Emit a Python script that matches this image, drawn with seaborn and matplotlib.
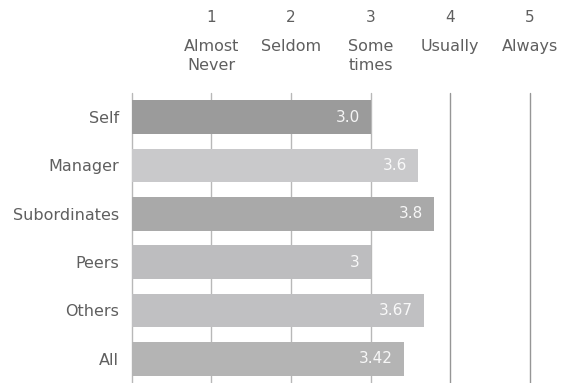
import matplotlib
matplotlib.use("Agg")
import matplotlib.pyplot as plt
import matplotlib.transforms as mtransforms
import seaborn as sns
import pandas as pd

# data
groups = ["Self", "Manager", "Subordinates", "Peers", "Others", "All"]
scores = [3.0, 3.6, 3.8, 3.0, 3.67, 3.42]
score_labels = ["3.0", "3.6", "3.8", "3", "3.67", "3.42"]
bar_colors = ["#9b9b9b", "#c9c9cb", "#a9a9a9", "#bdbdbf", "#c0c0c2", "#b4b4b4"]
scale_ticks = [1, 2, 3, 4, 5]
scale_names = ["Almost\nNever", "Seldom", "Some\ntimes", "Usually", "Always"]

df = pd.DataFrame({"group": groups, "score": scores})

sns.set_theme(style="white")
plt.rcParams["font.family"] = ["DejaVu Sans"]
TXT = "#5f5f5f"

fig = plt.figure(figsize=(5.61, 3.83), dpi=100)
ax = fig.add_axes([131.7 / 561, 0, (530 - 131.7) / 561, 290 / 383])

# scale lines behind the bars
for v in [0] + scale_ticks:
    ax.axvline(v, color="#b8b8b8" if v < 4 else "#969696", lw=1.0, zorder=0, clip_on=False)

sns.barplot(data=df, x="score", y="group", hue="group", palette=bar_colors,
            orient="h", width=0.70, legend=False, saturation=1, linewidth=0,
            ax=ax, zorder=2)

for i, (v, lab) in enumerate(zip(scores, score_labels)):
    ax.annotate(lab, (v, i), xytext=(-8, 0), textcoords="offset points",
                ha="right", va="center", color="white", alpha=0.9, fontsize=11, zorder=3)

ax.set_xlim(0, 5)
ax.set_ylim(5.5, -0.5)
ax.set_xlabel("")
ax.set_ylabel("")
ax.set_xticks([])
ax.tick_params(axis="y", length=0, pad=9, labelsize=11.5, labelcolor=TXT)
for s in ax.spines.values():
    s.set_visible(False)

# header scale
trans = mtransforms.blended_transform_factory(ax.transData, fig.transFigure)
for t, name in zip(scale_ticks, scale_names):
    ax.text(t, 1 - 18 / 383, str(t), transform=trans, ha="center", va="center",
            fontsize=11, color=TXT, clip_on=False)
    ax.text(t, 1 - 39 / 383, name, transform=trans, ha="center", va="top",
            fontsize=11.5, color=TXT, linespacing=1.3, clip_on=False)

fig.savefig("out.png", dpi=100)
